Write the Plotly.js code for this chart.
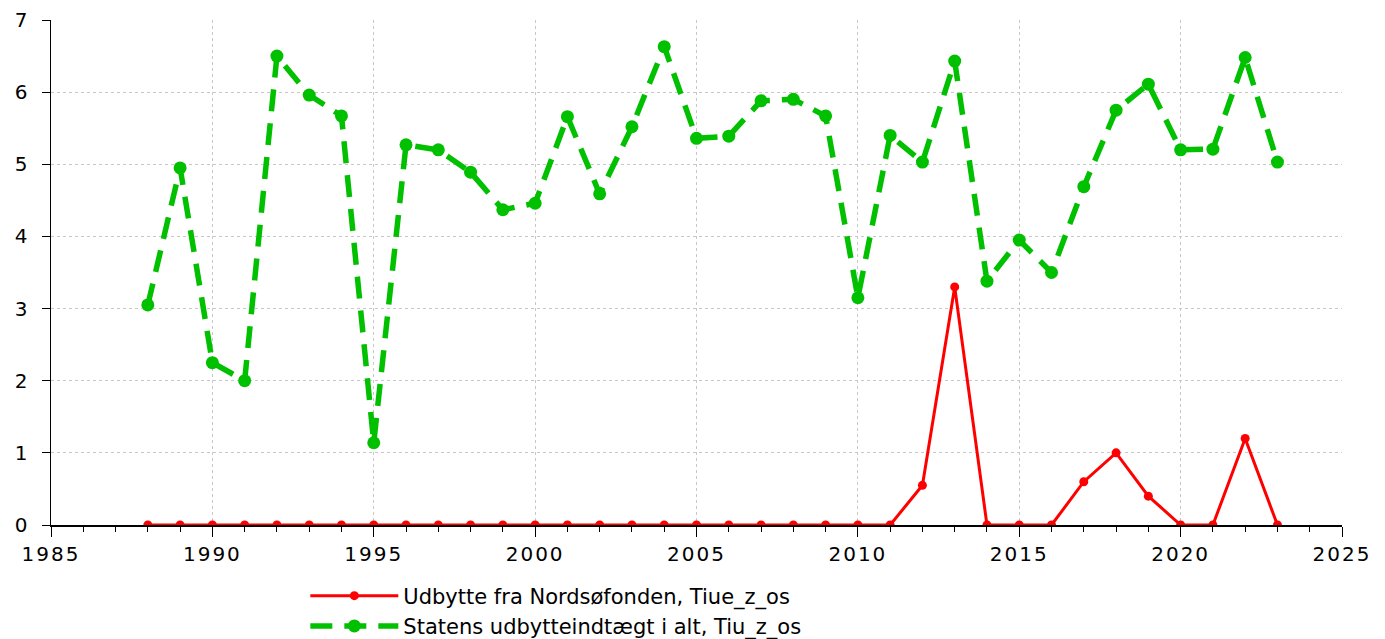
<!DOCTYPE html>
<html>
<head>
<meta charset="utf-8">
<script src="https://cdn.plot.ly/plotly-3.0.1.min.js"></script>
<style>
html,body{margin:0;padding:0;background:#fff;}
#chart{width:1385px;height:639px;}
#chart .xtick text{letter-spacing:2px;}
</style>
</head>
<body>
<div id="chart"></div>
<script>
const years = [1988,1989,1990,1991,1992,1993,1994,1995,1996,1997,1998,1999,2000,2001,2002,2003,2004,2005,2006,2007,2008,2009,2010,2011,2012,2013,2014,2015,2016,2017,2018,2019,2020,2021,2022,2023];
const nordsoe = [0,0,0,0,0,0,0,0,0,0,0,0,0,0,0,0,0,0,0,0,0,0,0,0,0.55,3.3,0,0,0,0.6,1.0,0.4,0,0,1.2,0];
const statens = [3.05,4.95,2.25,2.0,6.5,5.96,5.67,1.14,5.27,5.2,4.89,4.37,4.46,5.66,4.59,5.52,6.63,5.36,5.39,5.88,5.9,5.67,3.15,5.4,5.03,6.43,3.38,3.95,3.5,4.69,5.75,6.11,5.2,5.21,6.48,5.03];
const seriesNames = ["Udbytte fra Nordsøfonden, Tiue_z_os", "Statens udbytteindtægt i alt, Tiu_z_os"];

const traces = [
  {x: years, y: nordsoe, name: seriesNames[0], type: 'scatter', mode: 'lines+markers',
   line: {color: '#ff0000', width: 3}, marker: {color: '#ff0000', size: 9}},
  {x: years, y: statens, name: seriesNames[1], type: 'scatter', mode: 'lines+markers',
   line: {color: '#00c000', width: 5.5, dash: '22px,12px'}, marker: {color: '#00c000', size: 13}}
];

const layout = {
  width: 1385, height: 639,
  margin: {l: 51, r: 43, t: 20, b: 114, autoexpand: false},
  paper_bgcolor: '#fff', plot_bgcolor: '#fff',
  font: {family: 'DejaVu Sans, Verdana, sans-serif', size: 20, color: '#000'},
  showlegend: true,
  legend: {x: 0.197, xanchor: 'left', y: -0.1, yanchor: 'top', orientation: 'v',
           font: {size: 21}, itemwidth: 88, tracegroupgap: 0, bgcolor: 'rgba(0,0,0,0)'},
  xaxis: {range: [1985, 2025], dtick: 5, tick0: 1985, ticks: 'outside', ticklen: 10, tickcolor: '#000', tickwidth: 1,
          showline: true, linecolor: '#000', linewidth: 1.5, zeroline: false,
          showgrid: true, gridcolor: '#c8c8c8', griddash: 'dot', gridwidth: 1,
          minor: {dtick: 1, ticks: 'outside', ticklen: 5, tickcolor: '#000', showgrid: false},
          tickfont: {size: 20}},
  yaxis: {range: [0, 7], dtick: 1, ticks: 'outside', ticklen: 8, tickcolor: '#000', ticklabelstandoff: 10,
          showline: true, linecolor: '#000', linewidth: 1.5, zeroline: false,
          showgrid: true, gridcolor: '#c8c8c8', griddash: 'dot', gridwidth: 1,
          tickfont: {size: 20}}
};

Plotly.newPlot('chart', traces, layout, {displayModeBar: false, staticPlot: true});
</script>
</body>
</html>
